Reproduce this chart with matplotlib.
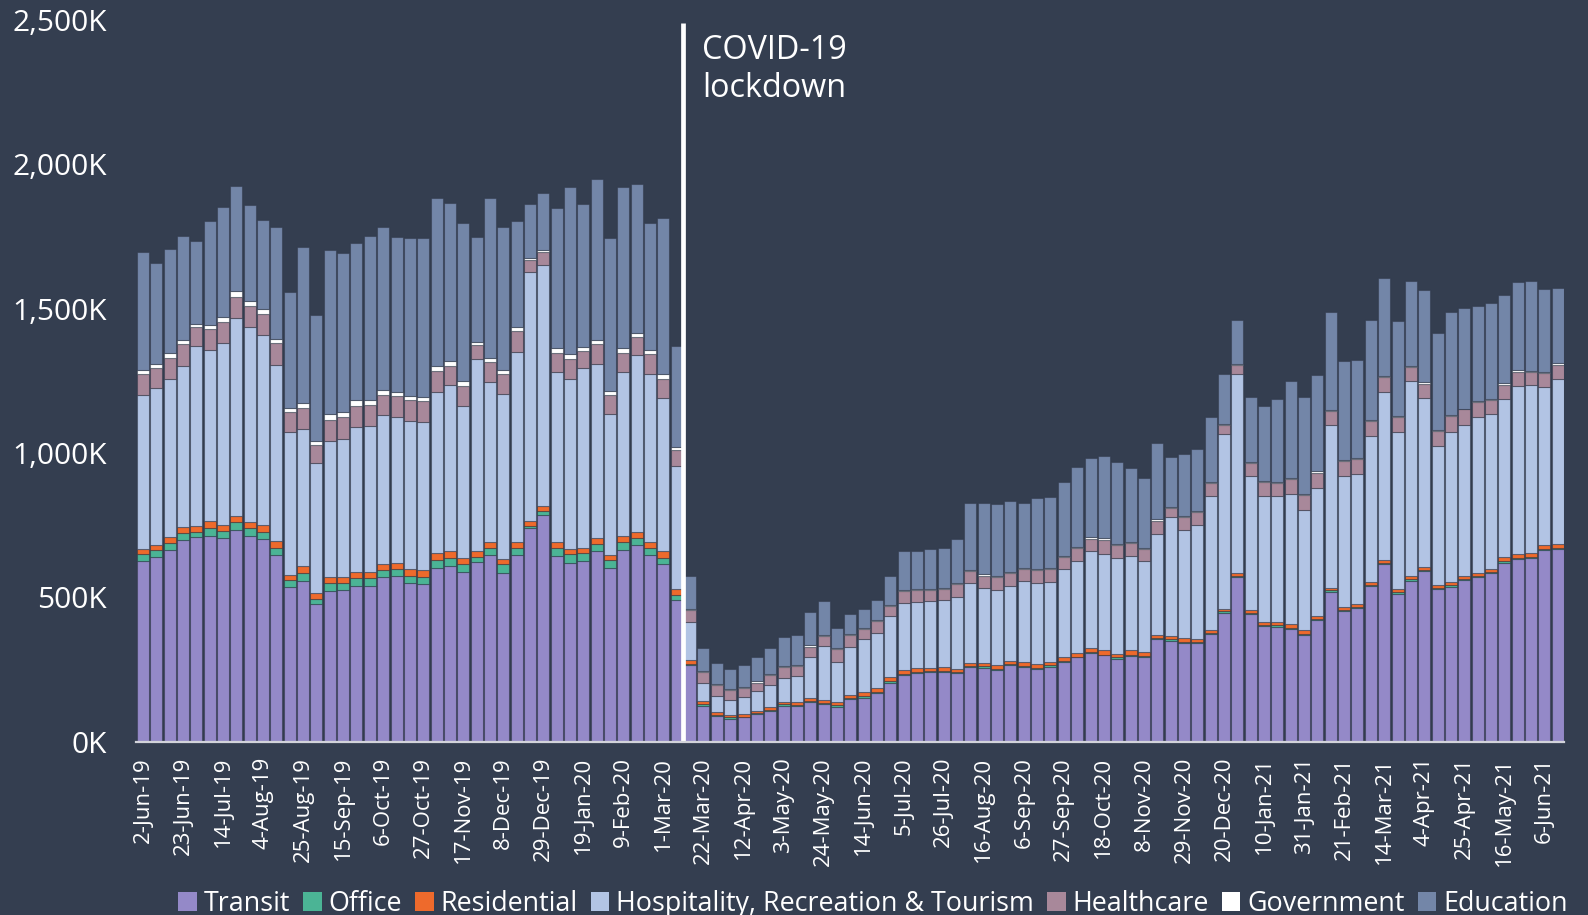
import numpy as np
import pandas as pd
import matplotlib
matplotlib.use("Agg")
import matplotlib.pyplot as plt
from matplotlib.patches import Patch

plt.rcParams['font.family'] = ['Open Sans', 'DejaVu Sans']

# weekly counts (thousands), one value per week starting 2-Jun-19
weeks = pd.date_range("2019-06-02", periods=107, freq="7D")

transit = [626, 639, 663, 697, 708, 713, 704, 734, 713, 703,
           648, 537, 557, 476, 521, 524, 541, 541, 569, 573,
           550, 545, 603, 610, 587, 623, 646, 586, 648, 740,
           786, 644, 620, 627, 660, 603, 663, 681, 646, 614,
           492, 264, 123, 90, 78, 84, 95, 107, 123, 123,
           137, 131, 121, 147, 153, 167, 205, 232, 239, 240,
           241, 237, 259, 257, 247, 264, 259, 252, 260, 276,
           292, 308, 299, 288, 298, 292, 355, 350, 343, 342,
           374, 447, 570, 443, 400, 399, 391, 370, 420, 520,
           451, 463, 538, 615, 513, 558, 590, 528, 537, 561,
           571, 583, 620, 632, 636, 663, 666]
office = [24, 24, 25, 26, 20, 27, 26, 28, 27, 25,
          24, 24, 26, 20, 28, 25, 25, 26, 26, 26,
          25, 25, 27, 26, 28, 16, 26, 28, 24, 6,
          13, 27, 30, 25, 25, 25, 27, 23, 25, 24,
          17, 6, 7, 4, 7, 3, 3, 3, 6, 4,
          4, 4, 5, 5, 5, 5, 4, 4, 4, 4,
          4, 4, 3, 5, 5, 4, 3, 4, 4, 4,
          2, 2, 3, 4, 4, 5, 4, 4, 4, 4,
          4, 4, 5, 4, 4, 5, 4, 4, 4, 4,
          5, 5, 4, 4, 4, 4, 4, 4, 5, 4,
          4, 4, 6, 4, 5, 4, 4]
residential = [17, 18, 20, 19, 19, 24, 22, 21, 21, 21,
               24, 18, 24, 18, 20, 21, 21, 22, 21, 21,
               22, 23, 24, 24, 20, 20, 21, 18, 21, 18,
               19, 22, 19, 20, 20, 20, 21, 21, 21, 21,
               19, 12, 11, 8, 9, 8, 8, 9, 9, 11,
               10, 11, 12, 11, 14, 14, 14, 12, 12, 12,
               14, 11, 12, 12, 12, 12, 14, 12, 12, 12,
               12, 13, 14, 13, 14, 12, 12, 11, 11, 11,
               10, 10, 11, 10, 11, 11, 11, 12, 11, 10,
               11, 10, 11, 11, 11, 11, 11, 10, 11, 10,
               11, 11, 13, 14, 13, 14, 14]
hospitality = [535, 543, 550, 561, 623, 594, 629, 686, 676, 660,
               610, 495, 477, 452, 474, 480, 504, 506, 514, 504,
               513, 514, 559, 576, 528, 667, 552, 573, 657, 863,
               834, 589, 588, 622, 603, 487, 571, 613, 581, 531,
               427, 133, 63, 57, 52, 61, 68, 79, 83, 89,
               142, 185, 139, 164, 182, 190, 213, 233, 230, 232,
               233, 250, 276, 259, 260, 261, 281, 280, 278, 305,
               321, 337, 335, 331, 328, 318, 349, 415, 376, 395,
               464, 606, 689, 462, 437, 437, 453, 417, 444, 564,
               454, 450, 505, 583, 546, 677, 587, 483, 521, 523,
               538, 536, 549, 583, 581, 549, 572]
healthcare = [71, 70, 72, 73, 65, 71, 73, 73, 72, 73,
              74, 67, 73, 61, 73, 74, 73, 72, 71, 72,
              73, 72, 72, 67, 69, 49, 69, 69, 71, 42,
              43, 66, 69, 60, 69, 66, 65, 63, 69, 68,
              55, 42, 37, 36, 33, 30, 31, 34, 38, 35,
              34, 35, 43, 42, 36, 42, 35, 41, 41, 38,
              36, 43, 40, 42, 45, 42, 40, 46, 44, 42,
              45, 43, 49, 45, 43, 40, 46, 30, 43, 43,
              43, 29, 31, 46, 47, 44, 52, 51, 53, 46,
              51, 50, 52, 49, 49, 48, 48, 50, 54, 53,
              52, 49, 49, 49, 44, 47, 49]
government = [14, 16, 16, 16, 11, 16, 17, 18, 16, 17,
              16, 15, 16, 15, 19, 17, 19, 17, 17, 16,
              14, 15, 17, 16, 19, 10, 16, 15, 16, 7,
              7, 16, 16, 13, 16, 13, 16, 14, 14, 15,
              12, 4, 4, 4, 4, 2, 4, 4, 3, 4,
              7, 4, 5, 4, 4, 4, 2, 3, 4, 4,
              4, 4, 4, 6, 5, 4, 4, 4, 4, 4,
              4, 5, 4, 3, 5, 4, 4, 3, 5, 4,
              4, 4, 2, 4, 4, 4, 4, 4, 4, 4,
              4, 4, 4, 4, 4, 4, 5, 4, 4, 3,
              4, 4, 4, 5, 5, 3, 6]
education = [410, 347, 359, 359, 290, 359, 381, 366, 334, 308,
             386, 400, 541, 437, 567, 551, 543, 566, 566, 537,
             546, 552, 580, 546, 547, 364, 554, 495, 367, 187,
             199, 484, 578, 496, 556, 529, 557, 518, 439, 541,
             350, 112, 80, 74, 68, 76, 83, 90, 99, 103,
             115, 117, 70, 68, 66, 70, 101, 134, 132, 136,
             140, 152, 233, 246, 249, 246, 226, 245, 246, 257,
             275, 273, 284, 285, 255, 242, 264, 173, 216, 215,
             224, 173, 153, 224, 261, 287, 334, 335, 333, 339,
             342, 340, 348, 341, 331, 295, 318, 338, 355, 348,
             329, 334, 305, 306, 311, 287, 261]

series_names = ["Transit", "Office", "Residential",
                "Hospitality, Recreation & Tourism", "Healthcare",
                "Government", "Education"]
series_data = [transit, office, residential, hospitality, healthcare,
               government, education]
colors = ["#9489c8", "#4bb495", "#ee6a2c", "#b2c4e4", "#a8889a",
          "#ffffff", "#7386a8"]

lockdown_week = 40.5
bg = "#343e50"

fig = plt.figure(figsize=(15.88, 9.15), dpi=100, facecolor=bg)
ax = fig.add_axes([0.0858, 0.1894, 0.8993, 0.7888])
ax.set_facecolor(bg)

x = np.arange(len(weeks))
bottom = np.zeros(len(weeks))
for name, vals, col in zip(series_names, series_data, colors):
    vals = np.array(vals, dtype=float)
    ax.bar(x, vals, bottom=bottom, width=0.9, color=col,
           edgecolor=(0.16, 0.19, 0.25, 0.45), linewidth=0.8, label=name)
    bottom += vals

# lockdown marker
ax.vlines(lockdown_week, 0, 2490, color="white", linewidth=3.4, zorder=5)
ax.text(lockdown_week + 1.42, 2450, "COVID-19\nlockdown", color="white",
        fontsize=23.3, va="top", ha="left", linespacing=1.2)

ax.set_xlim(-0.5, len(weeks) - 0.5)
ax.set_ylim(0, 2500)
ax.set_yticks(np.arange(0, 2501, 500))
ax.set_yticklabels([f"{v:,}K" for v in range(0, 2501, 500)])

tick_idx = x[::3]
tick_labels = [f"{d.day}-{d.strftime('%b-%y')}" for d in weeks[::3]]
ax.set_xticks(tick_idx)
ax.set_xticklabels(tick_labels, rotation=90)

ax.tick_params(axis="y", length=0, pad=21, labelsize=21.5, colors="white")
ax.tick_params(axis="x", length=0, pad=11, labelsize=16, colors="white")

for s in ["top", "right", "left"]:
    ax.spines[s].set_visible(False)
ax.spines["bottom"].set_color("#d2d3da")
ax.spines["bottom"].set_linewidth(1.6)
ax.spines["bottom"].set_zorder(6)

handles = [Patch(facecolor=c, edgecolor="none") for c in colors]
leg = fig.legend(handles, series_names, loc="lower right",
                 bbox_to_anchor=(0.994, -0.015), ncol=7, frameon=False,
                 fontsize=19.4, handlelength=0.68, handleheight=0.68,
                 handletextpad=0.25, columnspacing=0.5, borderaxespad=0)
for t in leg.get_texts():
    t.set_color("white")

fig.savefig("out.png", dpi=100, facecolor=bg)
